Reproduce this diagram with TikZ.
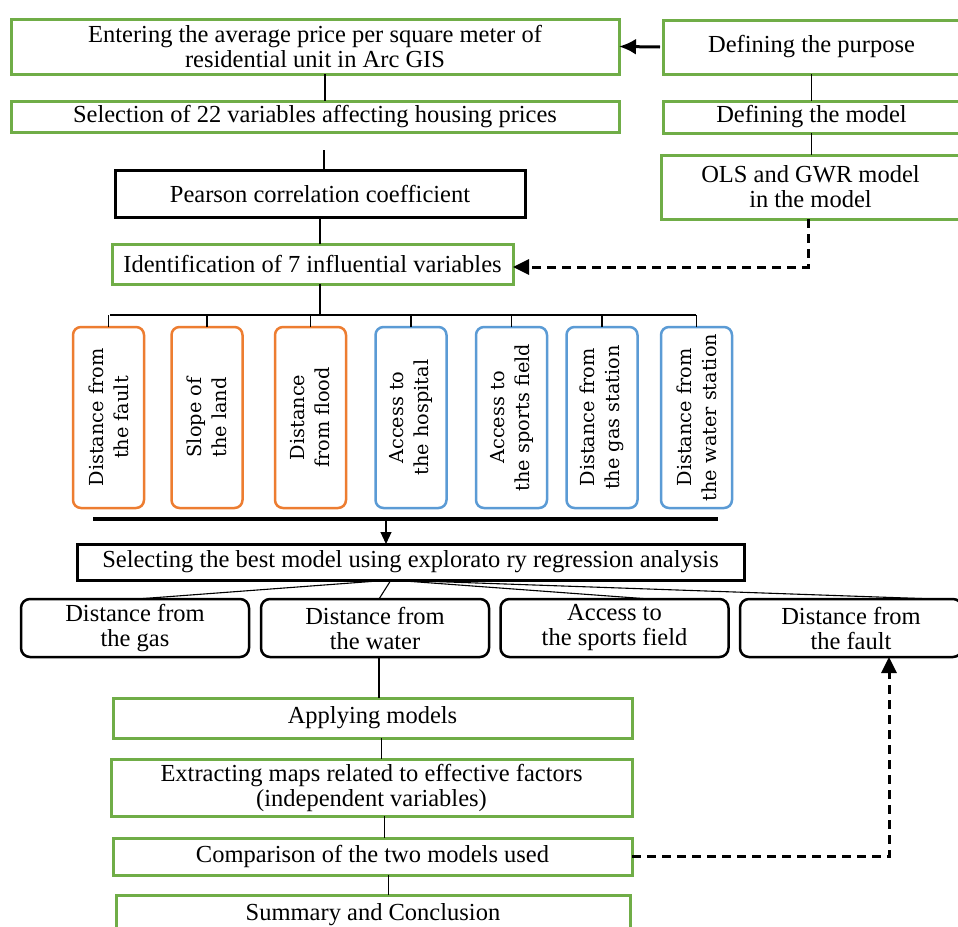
\documentclass[tikz,border=0pt]{standalone}
\usepackage{fontspec}
\setmainfont{Liberation Serif}
\newfontfamily\vertfont{DejaVu Serif}
\usetikzlibrary{arrows.meta}
\definecolor{gr}{HTML}{70AD47}
\definecolor{orng}{HTML}{ED7D31}
\definecolor{blu}{HTML}{5B9BD5}
\newcommand\mainfs{\fontsize{24.5}{25}\selectfont}
\begin{document}
\begin{tikzpicture}[x=1pt,y=-1pt,
  base/.style={inner sep=0pt, outer sep=0pt, align=center, font=\mainfs},
  gbox/.style={base, draw=gr, line width=3pt},
  kbox/.style={base, draw=black, line width=3pt},
  vbox/.style={inner sep=0pt, outer sep=0pt, align=center, rounded corners=8pt, line width=2.5pt,
     minimum width=181pt, minimum height=71pt, rotate=90, font=\vertfont\fontsize{19.3}{25}\selectfont},
  bbox/.style={base, draw=black, line width=2.5pt, rounded corners=9pt, minimum width=228pt, minimum height=58pt},
  conn/.style={line width=1.1pt},
  dsh/.style={line width=3pt, dash pattern=on 9pt off 6pt, -{Triangle[length=16pt,width=15pt]}},
]
\path[use as bounding box, clip] (0,0) rectangle (958,926);
\fill[white] (0,0) rectangle (958,926);

% top
\node[gbox, minimum width=608pt, minimum height=55pt] (enter) at (315,46.5) {Entering the average price per square meter of\\residential unit in Arc GIS};
\node[gbox, minimum width=297pt, minimum height=54pt] (purpose) at (811.5,47) {Defining the purpose};
\node[gbox, minimum width=608pt, minimum height=31pt] (sel) at (315,116.5) {Selection of 22 variables affecting housing prices};
\node[gbox, minimum width=297pt, minimum height=32pt] (model) at (811.5,117) {Defining the model};
\node[gbox, minimum width=299pt, minimum height=64pt] (ols) at (810.5,187) {OLS and GWR model\\in the model};
\node[kbox, minimum width=410pt, minimum height=47pt] (pear) at (320,193.5) {Pearson correlation coefficient};
\node[gbox, minimum width=401pt, minimum height=40pt] (ident) at (312.5,264) {Identification of 7 influential variables};

\draw[line width=3pt, -{Latex[length=17pt,width=16pt]}] ([xshift=-3pt]purpose.west) -- (enter.east);
\draw[conn] ([xshift=10pt]enter.south) -- ([xshift=10pt]enter.south |- sel.north);
\draw[conn] (purpose.south) -- (purpose.south |- model.north);
\draw[conn] (model.south) -- (model.south |- ols.north);
\coordinate (selgap) at (324,150);
\draw[conn] (selgap) -- (selgap |- pear.north);
\draw[conn] (pear.south) -- (pear.south |- ident.north);
\draw[dsh] ([xshift=-2.5pt]ols.south) |- ([yshift=-3pt]ident.east);

% vertical factor boxes
\node[vbox, draw=orng] (v1) at (108.5,417.5) {Distance from\\the fault};
\node[vbox, draw=orng] (v2) at (207,417.5) {Slope of\\the land};
\node[vbox, draw=orng] (v3) at (310.5,417.5) {Distance\\from flood};
\node[vbox, draw=blu] (v4) at (411,417.5) {Access to\\the hospital};
\node[vbox, draw=blu] (v5) at (511.5,417.5) {Access to\\the sports field};
\node[vbox, draw=blu] (v6) at (602,417.5) {Distance from\\the gas station};
\node[vbox, draw=blu] (v7) at (696.5,417.5) {Distance from\\the water station};

\coordinate (busL) at (110,315);
\coordinate (busR) at (696,315);
\draw[line width=2.5pt] (busL) -- (busR);
\draw[conn] (ident.south -| pear.south) -- (pear.south |- busL);
\foreach \v in {v1,v2,v3,v4,v5,v6,v7} \draw[conn] (\v.east) -- (\v.east |- busL);

\coordinate (barL) at (93,519);
\coordinate (barR) at (718,519);
\draw[line width=4.5pt] (barL) -- (barR);

% model selection
\node[kbox, minimum width=667pt, minimum height=36pt] (best) at (410.5,562) {Selecting the best model using explorato ry regression analysis};
\coordinate (barA) at (386,519);
\draw[conn, -{Triangle[length=12pt,width=11pt]}] (barA) -- (barA |- best.north);

\node[bbox] (b1) at (135,628) {Distance from\\the gas};
\node[bbox] (b2) at (375,628) {Distance from\\the water};
\node[bbox] (b3) at (614.5,628) {Access to\\the sports field};
\node[bbox, minimum width=222pt] (b4) at (851,628) {Distance from\\the fault};

\coordinate (fan) at ([xshift=-19.5pt]best.south);
\draw[conn] (fan) -- ([xshift=2pt]b1.north);
\draw[conn] (fan) -- ([xshift=4pt]b2.north);
\draw[conn] (fan) -- ([xshift=35pt]b3.north);
\draw[conn] (fan) -- ([xshift=84pt]b4.north);

% lower chain
\node[gbox, minimum width=519pt, minimum height=40pt] (apply) at (372.5,718) {Applying models};
\node[gbox, minimum width=521pt, minimum height=57pt] (extract) at (371.5,787.5) {Extracting maps related to effective factors\\(independent variables)};
\node[gbox, minimum width=519pt, minimum height=37pt] (comp) at (372.5,856.5) {Comparison of the two models used};
\node[gbox, minimum width=514pt, minimum height=40pt] (summ) at (373,915) {Summary and Conclusion};

\draw[conn] ([xshift=4pt]b2.south) -- ([xshift=4pt]b2.south |- apply.north);
\draw[conn] ([xshift=9pt]apply.south) -- ([xshift=9pt]apply.south |- extract.north);
\draw[conn] ([xshift=13pt]extract.south) -- ([xshift=13pt]extract.south |- comp.north);
\draw[conn] ([xshift=16pt]comp.south) -- ([xshift=16pt]comp.south |- summ.north);
\draw[dsh] (comp.east) -| ([xshift=38pt]b4.south);
\end{tikzpicture}
\end{document}
